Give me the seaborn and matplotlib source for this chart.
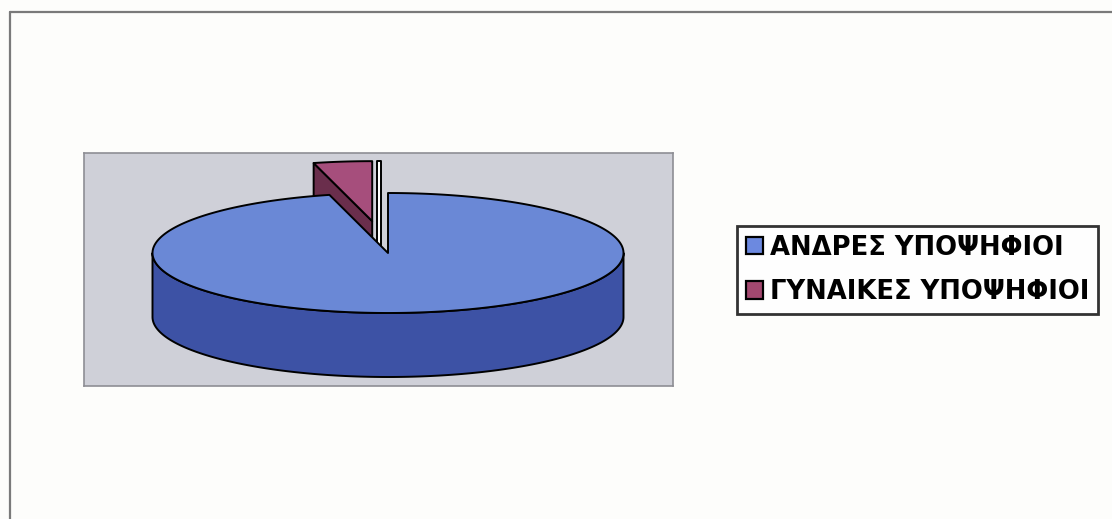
import numpy as np
import matplotlib
matplotlib.use("Agg")
import matplotlib.pyplot as plt
import seaborn as sns
from matplotlib.patches import Polygon, Patch
from matplotlib.lines import Line2D

# Candidates by gender (percent of total)
categories = ["ΑΝΔΡΕΣ ΥΠΟΨΗΦΙΟΙ", "ΓΥΝΑΙΚΕΣ ΥΠΟΨΗΦΙΟΙ"]
shares = [96, 4]
explode = [0.0, 0.535]

top_colors = ["#6a88d6", "#a64e7c"]
side_colors = ["#3d52a5", "#6a2e4c"]
legend_colors = ["#6c89e0", "#a3486f"]

sns.set_theme(style="white")
plt.rcParams["font.family"] = ["DejaVu Sans"]

W, H = 1112, 519
fig = plt.figure(figsize=(W / 100, H / 100), dpi=100, facecolor="#fdfdfb")

# plot area (gray panel) in pixel-like units
px0, py0, pw, ph = 84, 153, 589, 233
ax = fig.add_axes([px0 / W, 1 - (py0 + ph) / H, pw / W, ph / H])
ax.set_xlim(0, pw)
ax.set_ylim(ph, 0)
ax.set_facecolor("#cfd0d8")
ax.set_xticks([])
ax.set_yticks([])
for s in ax.spines.values():
    s.set_color("#8e8e94")
    s.set_linewidth(1.2)

# 3-D pie geometry: ellipse centre, semi-axes and slab thickness
cx, cy, a, b, depth = 304.0, 100.0, 235.5, 60.0, 64.0
edge_kw = dict(edgecolor="black", linewidth=1.4, joinstyle="round")


def rim(t, dx=0.0, dy=0.0, drop=0.0):
    t = np.radians(np.asarray(t, dtype=float))
    return np.column_stack([cx + dx + a * np.sin(t), cy + dy - b * np.cos(t) + drop])


frac = np.array(shares, dtype=float) / np.sum(shares)
bounds = np.concatenate([[0.0], np.cumsum(frac)]) * 360.0

slices = []
for i in range(len(shares)):
    t0, t1 = bounds[i], bounds[i + 1]
    mid = np.radians((t0 + t1) / 2)
    dx = explode[i] * a * np.sin(mid)
    dy = -explode[i] * b * np.cos(mid)
    slices.append((dy, i, t0, t1, dx))

z = 2
for dy, i, t0, t1, dx in sorted(slices):
    apex = np.array([cx + dx, cy + dy])
    down = np.array([0.0, depth])

    # outer wall on the front half
    w0, w1 = max(t0, 90.0), min(t1, 270.0)
    if w1 > w0:
        ts = np.linspace(w0, w1, 200)
        wall = np.vstack([rim(ts, dx, dy), rim(ts[::-1], dx, dy, depth)])
        ax.add_patch(Polygon(wall, closed=True, facecolor=side_colors[i], zorder=z, **edge_kw))
        z += 1

    # radial cut faces turned toward the viewer
    if np.sin(np.radians(t0)) < -1e-9:
        p = rim([t0], dx, dy)[0]
        face = np.array([apex, p, p + down, apex + down])
        ax.add_patch(Polygon(face, closed=True, facecolor=side_colors[i], zorder=z, **edge_kw))
        z += 1
    if np.sin(np.radians(t1)) > 1e-9:
        p = rim([t1], dx, dy)[0]
        face = np.array([apex, p, p + down, apex + down])
        ax.add_patch(Polygon(face, closed=True, facecolor=side_colors[i], zorder=z, **edge_kw))
        z += 1

    # thin sliver of the near edge-on face of a pulled-out slice
    if explode[i] > 0 and abs(np.sin(np.radians(t1))) < 1e-6:
        p = rim([t1], dx, dy)[0]
        s0, s1 = 5.0, 8.5
        sliver = np.array([p + [s0, 0], p + [s1, 0], apex + down + [s1, 0], apex + down + [s0, 0]])
        ax.add_patch(Polygon(sliver, closed=True, facecolor="white", zorder=z, **edge_kw))
        z += 1

    # top face
    ts = np.linspace(t0, t1, 300)
    top = np.vstack([apex, rim(ts, dx, dy)])
    ax.add_patch(Polygon(top, closed=True, facecolor=top_colors[i], zorder=z, **edge_kw))
    z += 1

# legend
handles = [Patch(facecolor=c, edgecolor="black", linewidth=1.6) for c in legend_colors]
leg = fig.legend(handles, categories, loc="upper left",
                 bbox_to_anchor=(736.5 / W, 1 - 225.5 / H), bbox_transform=fig.transFigure,
                 prop=dict(family=["DejaVu Sans"], weight="bold", size=18.6),
                 frameon=True, fancybox=False, borderaxespad=0.0, borderpad=0.35,
                 handlelength=0.66, handleheight=0.66, handletextpad=0.27,
                 labelspacing=0.72)
leg.get_frame().set_edgecolor("black")
leg.get_frame().set_linewidth(2.0)
leg.get_frame().set_facecolor("white")
for t in leg.get_texts():
    t.set_color("black")

# outer chart border (left and top)
fig.add_artist(Line2D([10 / W, 10 / W], [0, 1 - 11.5 / H], transform=fig.transFigure,
                      color="#7a7a7a", linewidth=1.6))
fig.add_artist(Line2D([10 / W, 1], [1 - 11.5 / H, 1 - 11.5 / H], transform=fig.transFigure,
                      color="#7a7a7a", linewidth=1.6))

fig.savefig("out.png", dpi=100, facecolor=fig.get_facecolor())
